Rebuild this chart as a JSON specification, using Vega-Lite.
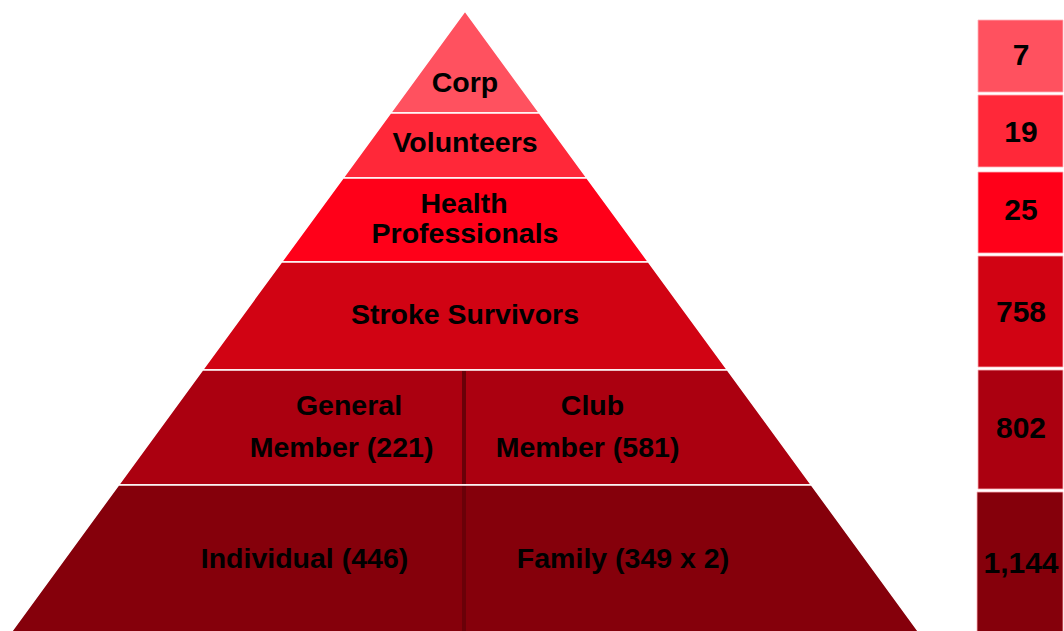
{
  "$schema": "https://vega.github.io/schema/vega-lite/v6.json",
  "width": 1064,
  "height": 631,
  "autosize": {"type": "none"},
  "padding": 0,
  "background": "white",
  "config": {"view": {"stroke": null}},
  "datasets": {
    "pyramid": [
      {"level": "Corp", "y": 11, "xl": 465, "xr": 465},
      {"level": "Corp", "y": 113, "xl": 390.5, "xr": 539.5},
      {"level": "Volunteers", "y": 113, "xl": 390.5, "xr": 539.5},
      {"level": "Volunteers", "y": 178, "xl": 343, "xr": 587},
      {"level": "Health Professionals", "y": 178, "xl": 343, "xr": 587},
      {"level": "Health Professionals", "y": 262, "xl": 281.5, "xr": 648.5},
      {"level": "Stroke Survivors", "y": 262, "xl": 281.5, "xr": 648.5},
      {"level": "Stroke Survivors", "y": 370, "xl": 202.5, "xr": 727.5},
      {"level": "Members", "y": 370, "xl": 202.5, "xr": 727.5},
      {"level": "Members", "y": 485, "xl": 118.5, "xr": 811.5},
      {"level": "Households", "y": 485, "xl": 118.5, "xr": 811.5},
      {"level": "Households", "y": 633, "xl": 10.5, "xr": 919.5}
    ],
    "divider": [
      {"x": 464, "y": 371, "y2": 484},
      {"x": 464, "y": 486, "y2": 631}
    ],
    "labels": [
      {"text": "Corp", "x": 465, "y": 92},
      {"text": "Volunteers", "x": 465, "y": 152},
      {"text": "Health", "x": 464, "y": 213},
      {"text": "Professionals", "x": 465, "y": 243},
      {"text": "Stroke Survivors", "x": 465, "y": 324},
      {"text": "General", "x": 349, "y": 415},
      {"text": "Member (221)", "x": 341.5, "y": 457},
      {"text": "Club", "x": 592.5, "y": 415},
      {"text": "Member (581)", "x": 587.5, "y": 457},
      {"text": "Individual (446)", "x": 304.5, "y": 568},
      {"text": "Family (349 x 2)", "x": 623, "y": 568}
    ],
    "totals": [
      {"level": "Corp", "value": "7", "top": 20, "bottom": 92, "left": 978, "right": 1063, "textY": 65},
      {"level": "Volunteers", "value": "19", "top": 95, "bottom": 167, "left": 978, "right": 1063, "textY": 142},
      {"level": "Health Professionals", "value": "25", "top": 172, "bottom": 253, "left": 978, "right": 1063, "textY": 220},
      {"level": "Stroke Survivors", "value": "758", "top": 256, "bottom": 367, "left": 978, "right": 1063, "textY": 322},
      {"level": "Members", "value": "802", "top": 370, "bottom": 489, "left": 978, "right": 1063, "textY": 438},
      {"level": "Households", "value": "1,144", "top": 492, "bottom": 633, "left": 977, "right": 1063, "textY": 573}
    ]
  },
  "layer": [
    {
      "data": {"name": "pyramid"},
      "mark": {"type": "area", "orient": "horizontal", "stroke": "white", "strokeWidth": 1.5},
      "encoding": {
        "y": {"field": "y", "type": "quantitative", "axis": null, "scale": {"domain": [0, 631], "reverse": true, "nice": false, "zero": false}},
        "x": {"field": "xl", "type": "quantitative", "axis": null, "scale": {"domain": [0, 1064], "nice": false, "zero": false}},
        "x2": {"field": "xr"},
        "color": {
          "field": "level", "type": "nominal", "legend": null,
          "scale": {
            "domain": ["Corp", "Volunteers", "Health Professionals", "Stroke Survivors", "Members", "Households"],
            "range": ["#ff515f", "#ff2839", "#ff0019", "#d10313", "#ab0010", "#85000b"]
          }
        },
        "detail": {"field": "level"}
      }
    },
    {
      "data": {"name": "divider"},
      "mark": {"type": "rule", "color": "#6a0008", "strokeWidth": 4},
      "encoding": {
        "x": {"field": "x", "type": "quantitative", "axis": null},
        "y": {"field": "y", "type": "quantitative", "axis": null},
        "y2": {"field": "y2"}
      }
    },
    {
      "data": {"name": "totals"},
      "mark": {"type": "rect", "stroke": "#ffb3ba", "strokeWidth": 1, "strokeOpacity": 0.8},
      "encoding": {
        "x": {"field": "left", "type": "quantitative", "axis": null},
        "x2": {"field": "right"},
        "y": {"field": "top", "type": "quantitative", "axis": null},
        "y2": {"field": "bottom"},
        "color": {"field": "level", "type": "nominal", "legend": null}
      }
    },
    {
      "data": {"name": "totals"},
      "mark": {"type": "text", "font": "Liberation Sans", "fontWeight": "bold", "fontSize": 30, "align": "center", "baseline": "alphabetic", "color": "black"},
      "encoding": {
        "x": {"datum": 1021, "type": "quantitative", "axis": null},
        "y": {"field": "textY", "type": "quantitative", "axis": null},
        "text": {"field": "value"}
      }
    },
    {
      "data": {"name": "labels"},
      "mark": {"type": "text", "font": "Liberation Sans", "fontWeight": "bold", "fontSize": 28.5, "align": "center", "baseline": "alphabetic", "color": "black"},
      "encoding": {
        "x": {"field": "x", "type": "quantitative", "axis": null},
        "y": {"field": "y", "type": "quantitative", "axis": null},
        "text": {"field": "text"}
      }
    }
  ]
}
